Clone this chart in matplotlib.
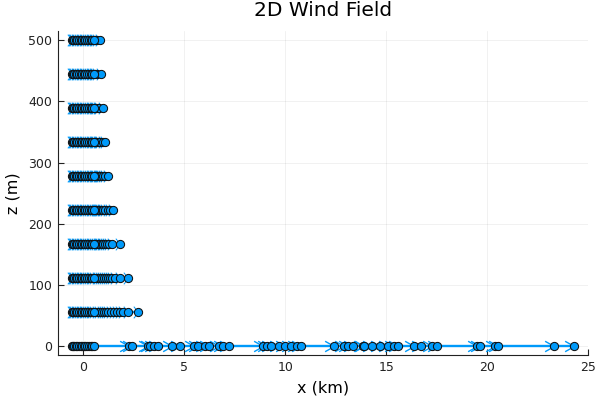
import matplotlib
matplotlib.use('Agg')
import matplotlib.pyplot as plt
from matplotlib.path import Path

plt.rcParams['font.family'] = ['DejaVu Sans']

heights = [0, 55.6, 111.1, 166.7, 222.2, 277.8, 333.3, 388.9, 444.4, 500]

# dense group near the origin, same on every level
near = [-0.58, -0.52, -0.46, -0.38, -0.3, -0.22, -0.14, -0.06, 0.02, 0.1, 0.18,
        0.27, 0.36, 0.44, 0.52]

ground = [2.25, 2.4, 3.2, 3.3, 3.5, 3.7, 4.4, 4.8, 5.5, 5.7, 6.0, 6.2, 6.7, 6.9, 7.22,
          8.9, 9.1, 9.3, 9.7, 10.0, 10.3, 10.6, 10.8, 12.4, 12.9, 13.1, 13.35, 13.85,
          13.9, 14.3, 14.7, 15.1, 15.4, 15.6, 16.4, 16.75, 17.25, 17.5, 19.5, 19.65,
          20.4, 20.55, 23.3, 24.3]
level1 = [0.68, 0.78, 0.9, 1.0, 1.12, 1.22, 1.35, 1.5, 1.65, 1.8, 1.95, 2.2, 2.7]
level2 = [0.65, 0.74, 0.82, 0.9, 1.0, 1.1, 1.2, 1.3, 1.42, 1.58, 1.8, 2.2]
level3 = [0.62, 0.7, 0.76, 0.82, 0.9, 0.98, 1.06, 1.15, 1.28, 1.42, 1.8]
level4 = [0.6, 0.66, 0.72, 0.78, 0.84, 0.9, 0.98, 1.06, 1.2, 1.32, 1.45]
level5 = [0.58, 0.64, 0.7, 0.76, 0.82, 0.88, 0.95, 1.05, 1.2]
level6 = [0.58, 0.64, 0.7, 0.76, 0.84, 0.95, 1.07]
level7 = [0.58, 0.64, 0.7, 0.78, 0.97]
level8 = [0.58, 0.66, 0.87]
level9 = [0.58, 0.66, 0.8]
extras = [ground, level1, level2, level3, level4, level5, level6, level7, level8, level9]

xticks = [0, 5, 10, 15, 20, 25]
yticks = [0, 100, 200, 300, 400, 500]

blue = '#009AFA'
dark = '#111111'
# open arrow heads, tip on the point: long ones on the ground level, stubby above
long_head = Path([(-9, 5), (0, 0), (-9, -5)], [Path.MOVETO, Path.LINETO, Path.LINETO])
short_head = Path([(-4, 5), (0, 0), (-4, -5)], [Path.MOVETO, Path.LINETO, Path.LINETO])

fig = plt.figure(figsize=(6, 4), dpi=100)
ax = fig.add_axes([58 / 600, 1 - 355 / 400, 530 / 600, 324 / 400])

for z, extra in zip(heights, extras):
    xs = near + extra
    zs = [z] * len(xs)
    ax.plot(xs, zs, color=blue, lw=1.7, zorder=2)
    if z == 0:
        ax.plot(extra, [z] * len(extra), ls='none', marker=long_head, ms=13.5, mfc='none', mec=blue, mew=1.0, zorder=2)
    else:
        ax.plot(xs, zs, ls='none', marker=short_head, ms=8.4, mfc='none', mec=blue, mew=0.7, zorder=2)

# outer points first so the group near the origin ends up on top
for z, extra in zip(heights, extras):
    ax.plot(extra, [z] * len(extra), ls='none', marker='o', ms=5.9, mfc=blue, mec=dark, mew=0.75, zorder=3)
    for x in near:
        ax.plot([x], [z], ls='none', marker='o', ms=5.9, mfc=blue, mec=dark, mew=0.75, zorder=4)

ax.set_xlim(-1.26, 25)
ax.set_ylim(-14.7, 515)
ax.set_xticks(xticks)
ax.set_yticks(yticks)
ax.grid(True, color='#000000', alpha=0.08, lw=0.5)
ax.set_axisbelow(True)
ax.tick_params(direction='in', length=4, width=0.8, labelsize=9, pad=4, colors='#222222')
ax.spines['top'].set_visible(False)
ax.spines['right'].set_visible(False)
ax.spines['left'].set_linewidth(0.8)
ax.spines['bottom'].set_linewidth(0.8)
ax.spines['left'].set_color('#222222')
ax.spines['bottom'].set_color('#222222')
ax.set_xlabel('x (km)', fontsize=11.5, labelpad=5)
ax.set_ylabel('z (m)', fontsize=11.5, labelpad=6)
ax.set_title('2D Wind Field', fontsize=14.5, pad=10.5)

fig.savefig('out.png', dpi=100)
